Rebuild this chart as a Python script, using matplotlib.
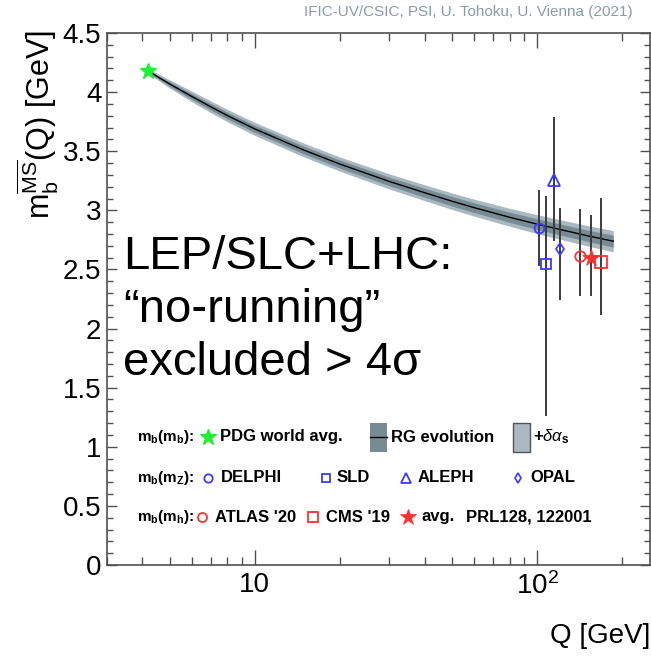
import numpy as np
import matplotlib
matplotlib.use("Agg")
import matplotlib.pyplot as plt
from matplotlib.ticker import FixedLocator, NullFormatter, MultipleLocator

plt.rcParams["font.family"] = ["Liberation Sans", "DejaVu Sans"]
plt.rcParams["mathtext.fontset"] = "custom"
plt.rcParams["mathtext.rm"] = "Liberation Sans"
plt.rcParams["mathtext.it"] = "Liberation Sans:italic"
plt.rcParams["mathtext.bf"] = "Liberation Sans:bold"

# RG evolution of m_b (central line and band half-widths)
q_curve = [4.18, 5.0, 6.0, 7.0, 8.0, 10.0, 15.0, 20.0, 30.0, 40.0, 50.0, 60.0, 80.0, 100.0, 150.0, 186.0]
m_curve = [4.18, 4.069, 3.962, 3.875, 3.802, 3.689, 3.508, 3.392, 3.244, 3.149, 3.077, 3.022, 2.941, 2.883, 2.786, 2.739]
w_outer = [0.02, 0.035, 0.045, 0.05, 0.052, 0.055, 0.058, 0.06, 0.064, 0.067, 0.07, 0.072, 0.076, 0.08, 0.086, 0.09]
w_inner = [0.01, 0.018, 0.024, 0.027, 0.028, 0.03, 0.032, 0.034, 0.036, 0.038, 0.04, 0.041, 0.043, 0.045, 0.048, 0.05]

# measurements: name, Q (plotted position), value, upper end, lower end
names = ["DELPHI", "SLD", "ALEPH", "OPAL", "ATLAS '20", "avg.", "CMS '19"]
q_meas = [101.6, 107.4, 114.6, 120.6, 142.0, 155.0, 168.0]
m_meas = [2.85, 2.55, 3.26, 2.67, 2.61, 2.60, 2.56]
m_hi = [3.16, 3.11, 3.78, 3.01, 3.00, 2.95, 3.10]
m_lo = [2.54, 1.27, 2.75, 2.25, 2.28, 2.28, 2.12]

pdg_q = 4.18
pdg_m = 4.18

blue = "#3a3aff"
red = "#ff3030"
green = "#22ee33"
band_out = "#aab8c0"
band_in = "#778b94"
frame = "#505050"

styles = {
    "DELPHI": dict(marker="o", ms=7, mfc="none", mec=blue, mew=1.3),
    "SLD": dict(marker="s", ms=7.5, mfc="none", mec=blue, mew=1.3),
    "ALEPH": dict(marker="^", ms=8, mfc="none", mec=blue, mew=1.3),
    "OPAL": dict(marker="d", ms=6, mfc="none", mec=blue, mew=1.2),
    "ATLAS '20": dict(marker="o", ms=7.5, mfc="none", mec=red, mew=1.3),
    "avg.": dict(marker="*", ms=13, mfc=red, mec=red, mew=0.5),
    "CMS '19": dict(marker="s", ms=8, mfc="none", mec=red, mew=1.3),
}

fig = plt.figure(figsize=(6.51, 6.56), dpi=100)
ax = fig.add_axes([107 / 651, 1 - 565 / 656, 543 / 651, 532 / 656])

mc = np.array(m_curve)
ax.fill_between(q_curve, mc - np.array(w_outer), mc + np.array(w_outer), color=band_out, lw=0)
ax.fill_between(q_curve, mc - np.array(w_inner), mc + np.array(w_inner), color=band_in, lw=0)
ax.plot(q_curve, m_curve, color="black", lw=1.0)

for i, n in enumerate(names):
    ax.plot([q_meas[i], q_meas[i]], [m_lo[i], m_hi[i]], color="#3c3c3c", lw=1.4, zorder=3)
    ax.plot(q_meas[i], m_meas[i], ls="none", zorder=4, **styles[n])

ax.plot(pdg_q, pdg_m, marker="*", ms=12, color=green, mec=green, ls="none", zorder=5)

ax.set_xscale("log")
ax.set_xlim(3.0, 251)
ax.set_ylim(0, 4.5)

ax.xaxis.set_major_locator(FixedLocator([10, 100]))
ax.xaxis.set_minor_locator(FixedLocator([3, 4, 5, 6, 7, 8, 9, 20, 30, 40, 50, 60, 70, 80, 90, 200]))
ax.xaxis.set_minor_formatter(NullFormatter())
ax.set_xticklabels(["10", r"$\mathregular{10^2}$"])
ax.yaxis.set_minor_locator(MultipleLocator(0.1))
ax.set_yticks([0, 0.5, 1, 1.5, 2, 2.5, 3, 3.5, 4, 4.5])
ax.set_yticklabels(["0", "0.5", "1", "1.5", "2", "2.5", "3", "3.5", "4", "4.5"])

ax.tick_params(axis="both", which="both", direction="in", top=True, right=True,
               color=frame, labelsize=20, width=1.0)
ax.tick_params(axis="x", which="major", length=11, pad=5)
ax.tick_params(axis="x", which="minor", length=5.5)
ax.tick_params(axis="y", which="major", length=7.5, pad=4)
ax.tick_params(axis="y", which="minor", length=4.5)
for s in ax.spines.values():
    s.set_color(frame)
    s.set_linewidth(1.2)

fig.text(38 / 651, 1 - 30 / 656, r"$\mathregular{m_b^{\overline{MS}}(Q)}$ [GeV]", rotation=90,
         ha="center", va="top", fontsize=22)
fig.text(650 / 651, 1 - 636 / 656, "Q [GeV]", ha="right", va="center", fontsize=20)
fig.text(633 / 651, 1 - 12 / 656, "IFIC-UV/CSIC, PSI, U. Tohoku, U. Vienna (2021)",
         ha="right", va="center", fontsize=11, color="#8c9ba4")


# pixel positions converted to axes fractions
def fx(px):
    return (px - 107) / 543


def fy(py):
    return (565 - py) / 532


big_lines = ["LEP/SLC+LHC:", "\u201cno-running\u201d", "excluded > 4\u03c3"]
for line, base in zip(big_lines, [269, 322, 375]):
    ax.text(fx(123), fy(base), line, transform=ax.transAxes, ha="left", va="baseline",
            fontsize=34)


def lab(px, py, s, size=12):
    ax.text(fx(px), fy(py), s, transform=ax.transAxes, ha="left", va="center",
            fontsize=size, fontweight="bold")


def mark(px, py, **kw):
    ax.plot(fx(px), fy(py), transform=ax.transAxes, ls="none", clip_on=False, **kw)


row1, row2, row3 = 437, 478, 517
lab(137, row1, r"$\mathbf{m_b(m_b)}$:", size=11)
mark(208, row1, marker="*", ms=12, color=green, mec=green)
lab(220, row1, "PDG world avg.")
ax.add_patch(plt.Rectangle((fx(370), fy(452)), fx(387) - fx(370), fy(423) - fy(452),
                           transform=ax.transAxes, facecolor=band_in, edgecolor="none"))
ax.plot([fx(370), fx(387)], [fy(row1), fy(row1)], transform=ax.transAxes, color="black", lw=1.0)
lab(391, row1, "RG evolution")
ax.add_patch(plt.Rectangle((fx(513), fy(452)), fx(530) - fx(513), fy(423) - fy(452),
                           transform=ax.transAxes, facecolor=band_out, edgecolor="#555555", lw=1.0))
lab(533, row1, r"+$\delta\alpha_\mathbf{s}$")

lab(137, row2, r"$\mathbf{m_b(m_Z)}$:", size=11)
legend_pos = {
    "DELPHI": (208, row2, 221), "SLD": (326, row2, 337),
    "ALEPH": (406, row2, 418), "OPAL": (518, row2, 530),
    "ATLAS '20": (202, row3, 215), "CMS '19": (313, row3, 326), "avg.": (408, row3, 421),
}
small = {"DELPHI": 6, "SLD": 6, "ALEPH": 6.5, "OPAL": 5, "ATLAS '20": 6.5, "CMS '19": 6.5, "avg.": 12}
for n, (mx, my, tx) in legend_pos.items():
    st = dict(styles[n])
    st["ms"] = small[n]
    mark(mx, my, **st)
    lab(tx, my, n)

lab(137, row3, r"$\mathbf{m_b(m_h)}$:", size=11)
lab(466, row3, "PRL128, 122001")

fig.savefig("out.png", dpi=100)
